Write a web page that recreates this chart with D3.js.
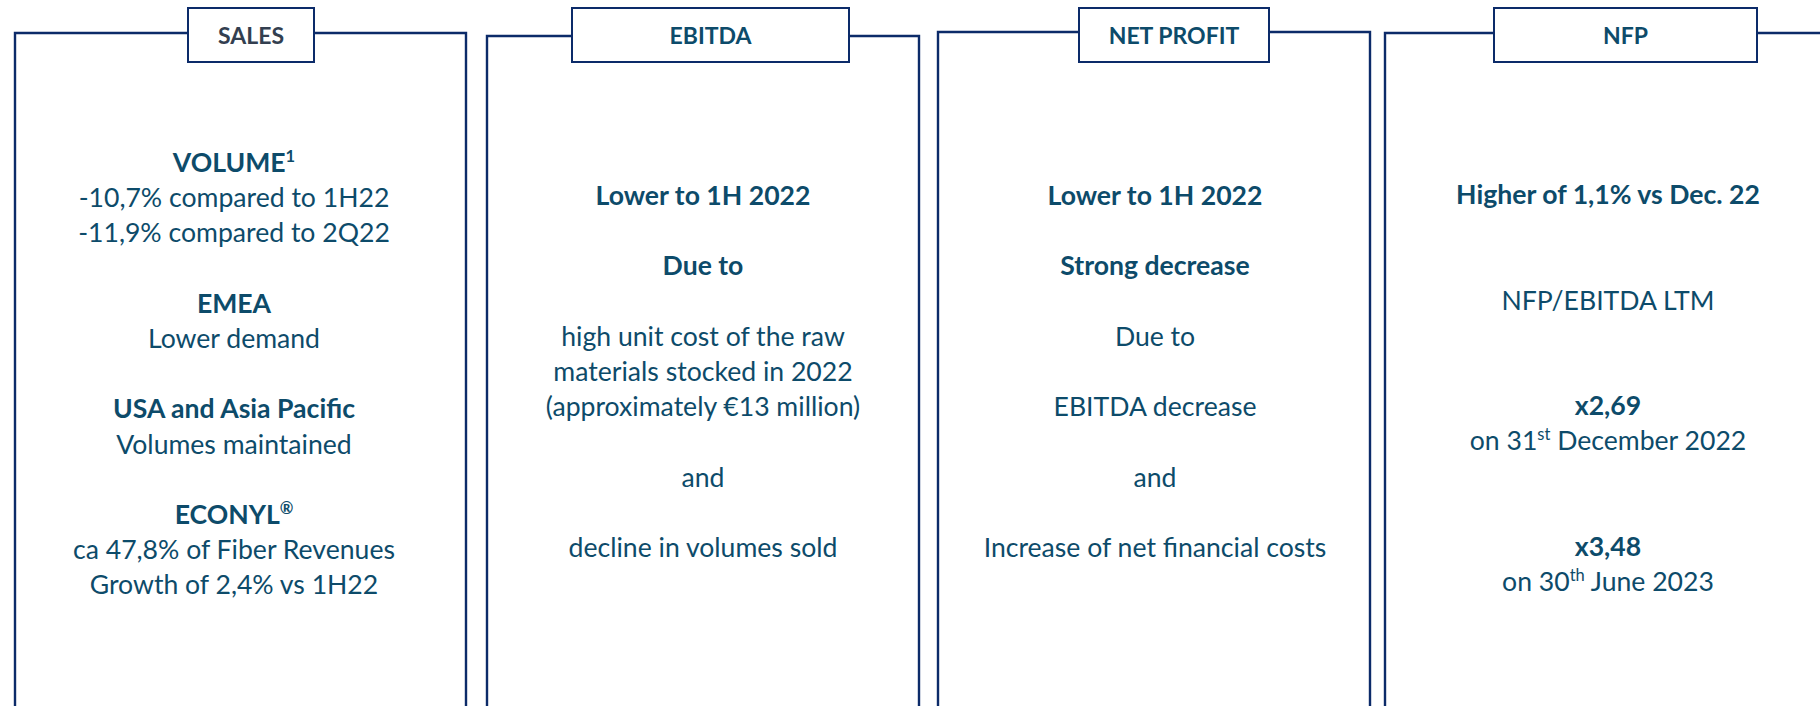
<!DOCTYPE html>
<html>
<head>
<meta charset="utf-8">
<script src="https://cdn.jsdelivr.net/npm/d3@7"></script>
<style>
  html, body { margin: 0; padding: 0; background: #fff; }
  svg { display: block; }
</style>
</head>
<body>
<svg id="summary" width="1820" height="706"></svg>
<script>
// panel titles
const titles = ["SALES", "EBITDA", "NET PROFIT", "NFP"];

// text of each panel, one entry per line ("" = empty line), ^ marks a superscript
const salesLines = [
  ["head", "VOLUME^1"],
  ["body", "-10,7% compared to 1H22"],
  ["body", "-11,9% compared to 2Q22"],
  ["", ""],
  ["head", "EMEA"],
  ["body", "Lower demand"],
  ["", ""],
  ["head", "USA and Asia Pacific"],
  ["body", "Volumes maintained"],
  ["", ""],
  ["head", "ECONYL^®"],
  ["body", "ca 47,8% of Fiber Revenues"],
  ["body", "Growth of 2,4% vs 1H22"]
];
const ebitdaLines = [
  ["head", "Lower to 1H 2022"],
  ["", ""],
  ["head", "Due to"],
  ["", ""],
  ["body", "high unit cost of the raw"],
  ["body", "materials stocked in 2022"],
  ["body", "(approximately €13 million)"],
  ["", ""],
  ["body", "and"],
  ["", ""],
  ["body", "decline in volumes sold"]
];
const profitLines = [
  ["head", "Lower to 1H 2022"],
  ["", ""],
  ["head", "Strong decrease"],
  ["", ""],
  ["body", "Due to"],
  ["", ""],
  ["body", "EBITDA decrease"],
  ["", ""],
  ["body", "and"],
  ["", ""],
  ["body", "Increase of net financial costs"]
];
const nfpLines = [
  ["head", "Higher of 1,1% vs Dec. 22"],
  ["", ""],
  ["", ""],
  ["body", "NFP/EBITDA LTM"],
  ["", ""],
  ["", ""],
  ["head", "x2,69"],
  ["body", "on 31^st December 2022"],
  ["", ""],
  ["", ""],
  ["head", "x3,48"],
  ["body", "on 30^th June 2023"]
];
const panelLines = [salesLines, ebitdaLines, profitLines, nfpLines];

// layout of the four frames
const frames = [
  {left: 15,   right: 466,  top: 33, boxL: 188,  boxR: 314,  textX: 234,  firstY: 172},
  {left: 487,  right: 919,  top: 36, boxL: 572,  boxR: 849,  textX: 703,  firstY: 205},
  {left: 938,  right: 1370, top: 32, boxL: 1079, boxR: 1269, textX: 1155, firstY: 205},
  {left: 1385, right: null, top: 33, boxL: 1494, boxR: 1757, textX: 1608, firstY: 204}
];

class Summary {
  constructor(svg_element_id) {
    this.svg = d3.select('#' + svg_element_id);
    this.width = +this.svg.attr("width");
    this.height = +this.svg.attr("height");
    this.lineColor = "#0c2b69";
    this.textColor = "#0d4b6a";
    this.fontSize = 26.6;
    this.lineStep = 35.2;
  }

  draw() {
    const svg = this.svg;
    const font = "Lato, 'Open Sans', sans-serif";

    frames.forEach((f, i) => {
      const g = svg.append("g");
      const right = f.right === null ? this.width + 5 : f.right;
      const bottom = this.height + 5;

      // open frame: sides + top broken by the title box
      const path = d3.path();
      path.moveTo(f.boxL, f.top);
      path.lineTo(f.left, f.top);
      path.lineTo(f.left, bottom);
      g.append("path").attr("d", path.toString());

      const path2 = d3.path();
      path2.moveTo(f.boxR, f.top);
      path2.lineTo(right, f.top);
      if (f.right !== null) path2.lineTo(right, bottom);
      g.append("path").attr("d", path2.toString());

      g.selectAll("path")
        .attr("fill", "none")
        .attr("stroke", this.lineColor)
        .attr("stroke-width", 2.4)
        .attr("stroke-linejoin", "miter");

      g.append("rect")
        .attr("x", f.boxL)
        .attr("y", 8)
        .attr("width", f.boxR - f.boxL)
        .attr("height", 54)
        .attr("fill", "#fff")
        .attr("stroke", this.lineColor)
        .attr("stroke-width", 2);

      g.append("text")
        .attr("x", (f.boxL + f.boxR) / 2)
        .attr("y", 44)
        .attr("text-anchor", "middle")
        .attr("font-family", font)
        .attr("font-weight", "bold")
        .attr("font-size", 23)
        .attr("fill", i === 0 ? "#333f50" : this.textColor)
        .text(titles[i]);

      // body lines
      const lines = panelLines[i];
      const y = d3.scaleLinear()
        .domain([0, 1])
        .range([f.firstY, f.firstY + this.lineStep]);

      lines.forEach((ln, k) => {
        if (!ln[1]) return;
        const t = g.append("text")
          .attr("x", f.textX)
          .attr("y", y(k))
          .attr("text-anchor", "middle")
          .attr("font-family", font)
          .attr("font-weight", ln[0] === "head" ? "bold" : "normal")
          .attr("font-size", this.fontSize)
          .attr("fill", this.textColor);
        this.writeLine(t, ln[1]);
      });
    });
  }

  // split "abc^sup rest" into tspans, superscript is the run of chars after ^
  writeLine(t, str) {
    const parts = str.split("^");
    t.append("tspan").text(parts[0]);
    for (let p = 1; p < parts.length; p++) {
      const m = parts[p].match(/^(\S+?)(\s.*)?$/);
      const sup = parts[p].startsWith("®") ? "®" : (m ? m[1] : parts[p]);
      const rest = parts[p].slice(sup.length);
      const shift = this.fontSize * 0.38;
      t.append("tspan")
        .attr("font-size", this.fontSize * 0.62)
        .attr("dy", -shift)
        .text(sup);
      if (rest) {
        t.append("tspan").attr("dy", shift).text(rest);
      }
    }
  }
}

function whenDocumentLoaded(action) {
  if (document.readyState === "loading") {
    document.addEventListener("DOMContentLoaded", action);
  } else {
    action();
  }
}

whenDocumentLoaded(() => {
  const summary = new Summary('summary');
  summary.draw();
});
</script>
</body>
</html>
